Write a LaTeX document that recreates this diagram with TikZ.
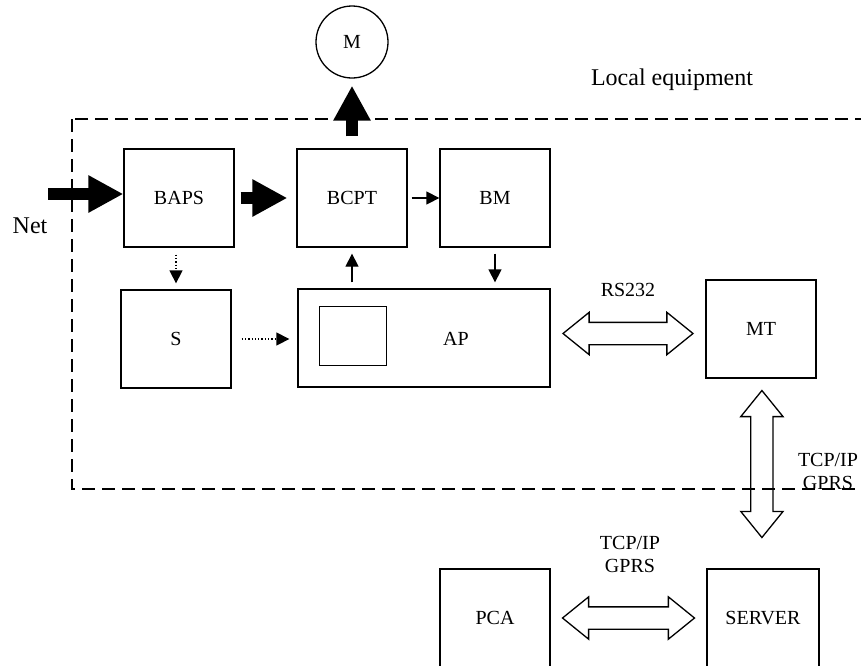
\documentclass[tikz,border=0pt]{standalone}
\usepackage{fontspec}
\setmainfont{Liberation Serif}
\usetikzlibrary{shapes,arrows.meta,positioning,calc}

\begin{document}
\begin{tikzpicture}[x=1pt, y=-1pt,
    block/.style={draw, rectangle, line width=1.3pt, minimum width=110pt, minimum height=98pt, inner sep=0pt, font=\fontsize{20}{23}\selectfont},
    thin arrow/.style={-{Triangle[length=13pt,width=13pt]}, line width=1.3pt},
    dot arrow/.style={thin arrow, dotted},
    fat arrow/.style={-{Triangle[length=35pt,width=35pt]}, line width=12pt},
    hollow/.style={draw, double arrow, line width=1.3pt, double arrow head extend=10pt, double arrow tip angle=78, inner xsep=0pt, inner ysep=10.5pt, minimum height=130pt},
    lbl/.style={font=\fontsize{20}{23}\selectfont, align=center},
    biglbl/.style={font=\fontsize{24}{28}\selectfont}]
    \useasboundingbox (0,0) rectangle (861,665);
    \clip (0,0) rectangle (861,665);

    % local equipment frame
    \draw[dash pattern=on 13pt off 7pt, line width=1.8pt] (72,119) rectangle (930,489);
    \node[biglbl, anchor=base] (local) at (672,85) {Local equipment};

    \node[block] (baps) at (179,198) {BAPS};
    \node[block] (bcpt) at (352,198) {BCPT};
    \node[block] (bm) at (495,198) {BM};
    \node[block] (s) at (176,339) {S};
    \node[block, minimum width=252pt] (ap) at (424,338) {};
    \node[draw, line width=1.3pt, minimum width=67pt, minimum height=59pt, inner sep=0pt] (apin) at (353,336) {};
    \node[lbl] (aplbl) at (456,339) {AP};
    \node[block] (mt) at (761,329) {MT};
    \node[block] (pca) at (495,618) {PCA};
    \node[block, minimum width=112pt] (server) at (763,618) {SERVER};
    \node[draw, circle, line width=1.3pt, minimum size=72pt, inner sep=0pt, lbl] (m) at (352,42) {M};

    \node[biglbl] (netlbl) at (30,226) {Net};
    \node[lbl] (rs) at (628,290) {RS232};
    \node[lbl] (tcpa) at (630,554) {TCP/IP\\GPRS};
    \node[lbl] (tcpb) at (828,471) {TCP/IP\\GPRS};

    % power path
    \coordinate (net) at (48,194);
    \draw[fat arrow] (net) -- (baps.west |- net);
    \draw[fat arrow] ([xshift=6pt]baps.east) -- ([xshift=-9pt]bcpt.west);
    \draw[fat arrow] ([yshift=12pt]bcpt.north) -- ([yshift=-7pt]m.south);

    % signals
    \draw[thin arrow] ([xshift=4pt]bcpt.east) -- (bm.west);
    \draw[thin arrow] ([yshift=-6pt]bm.south) -- ([yshift=6pt]bm.south |- ap.north);
    \draw[thin arrow] ([yshift=6pt]bcpt.south |- ap.north) -- ([yshift=-6pt]bcpt.south);
    \draw[dot arrow] ([yshift=-7pt]s.north |- baps.south) -- ([yshift=6pt]s.north);
    \draw[dot arrow] ([xshift=10pt]s.east) -- ([xshift=-8pt]ap.west |- s.east);

    % links
    \path (ap.east) -- (mt.west) node[midway, hollow] {};
    \path (pca.east) -- (server.west) node[midway, hollow, minimum height=132pt] {};
    \path (mt.south) -- (server.north) node[pos=0.45, hollow, rotate=90, minimum height=147pt] {};
\end{tikzpicture}
\end{document}
